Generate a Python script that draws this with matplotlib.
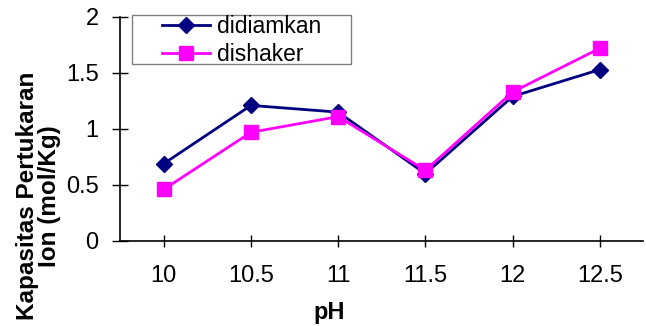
import matplotlib
matplotlib.use("Agg")
import matplotlib.pyplot as plt
from matplotlib.patches import Rectangle

plt.rcParams['font.family'] = ['Liberation Sans', 'DejaVu Sans']

# pH values and exchange capacity for both treatments
ph_labels = ["10", "10.5", "11", "11.5", "12", "12.5"]
didiamkan = [0.69, 1.21, 1.15, 0.60, 1.29, 1.53]
dishaker = [0.46, 0.97, 1.11, 0.63, 1.33, 1.72]

fig = plt.figure(figsize=(6.46, 3.26), dpi=100)
ax = fig.add_axes([0.186, 0.261, 0.81, 0.687])

x = range(len(ph_labels))
ax.plot(x, didiamkan, color='#000080', marker='D', markersize=8,
        linewidth=2, label='didiamkan')
ax.plot(x, dishaker, color='#FF00FF', marker='s', markersize=9.5,
        linewidth=2, label='dishaker')

ax.set_xlim(-0.5, len(ph_labels) - 0.5)
ax.set_ylim(0, 2)
ax.set_xticks(list(x))
ax.set_xticklabels(ph_labels)
ax.set_yticks([0, 0.5, 1, 1.5, 2])
ax.set_yticklabels(["0", "0.5", "1", "1.5", "2"])

for side in ('top', 'right'):
    ax.spines[side].set_visible(False)
for side in ('left', 'bottom'):
    ax.spines[side].set_linewidth(1.2)
ax.tick_params(axis='both', direction='inout', width=1,
               labelsize=17, colors='black')
ax.tick_params(axis='y', length=11, pad=10)
ax.tick_params(axis='x', length=9, pad=13)

fig.text(0.06, 0.399, "Kapasitas Pertukaran\nIon (mol/Kg)", rotation=90,
         ha='center', va='center', multialignment='center',
         fontsize=17.5, fontweight='bold', linespacing=0.95)
fig.text(0.51, 0.04, "pH", ha='center', va='center',
         fontsize=17, fontweight='bold')

# legend box drawn separately so the padding can be wider on the left
fig.patches.append(Rectangle((0.204, 0.804), 0.339, 0.150,
                             transform=fig.transFigure, fill=False,
                             edgecolor='#808080', linewidth=1))
leg = fig.legend(loc='upper left', bbox_to_anchor=(162 / 646, 1 - 15 / 326),
                 fontsize=16.5, frameon=False, borderpad=0,
                 labelspacing=0.2, handlelength=2.1,
                 handletextpad=0.3, borderaxespad=0)

fig.savefig("out.png", dpi=100)
